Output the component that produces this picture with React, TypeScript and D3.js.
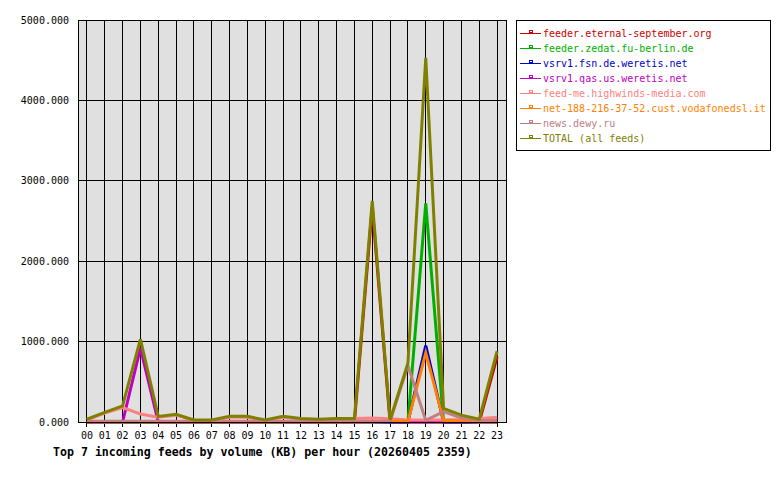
import React from 'react';
import * as d3 from 'd3';

const hours = ['00','01','02','03','04','05','06','07','08','09','10','11','12','13','14','15','16','17','18','19','20','21','22','23'];
const yTicks = [0, 1000, 2000, 3000, 4000, 5000];

const feedNames = [
  'feeder.eternal-september.org',
  'feeder.zedat.fu-berlin.de',
  'vsrv1.fsn.de.weretis.net',
  'vsrv1.qas.us.weretis.net',
  'feed-me.highwinds-media.com',
  'net-188-216-37-52.cust.vodafonedsl.it',
  'news.dewy.ru',
  'TOTAL (all feeds)',
];
const feedColors = ['#cc0000', '#00b000', '#0000cc', '#c000c0', '#ff8080', '#ff8000', '#c08080', '#808000'];

// KB per hour
const eternalSeptember = [0,0,0,0,0,0,0,0,0,0,0,0,0,0,0,0,2680,0,0,0,0,0,0,810];
const zedat = [0,0,0,0,0,0,0,0,0,0,0,0,0,0,0,0,0,0,0,2720,0,0,0,0];
const fsnWeretis = [0,0,0,0,0,0,0,0,0,0,0,0,0,0,0,0,0,0,0,950,0,0,0,0];
const qasWeretis = [0,0,0,920,0,0,0,0,0,0,0,0,0,0,0,0,0,0,0,0,0,0,0,0];
const highwinds = [25,110,180,100,60,85,15,15,60,60,15,60,35,25,35,45,50,40,25,25,25,30,40,60];
const vodafone = [0,0,0,0,0,0,0,0,0,0,0,0,0,0,0,0,0,10,10,860,20,10,0,0];
const dewy = [10,10,10,10,10,10,10,10,10,10,10,10,10,10,10,10,10,10,700,20,130,50,20,20];
const total = [35,120,200,1030,70,95,25,25,70,70,25,70,45,35,45,45,2750,25,730,4530,170,85,35,880];

const seriesValues = [eternalSeptember, zedat, fsnWeretis, qasWeretis, highwinds, vodafone, dewy, total];

const mono = '"DejaVu Sans Mono", "Liberation Mono", monospace';

export default function App() {
  const left = 78, right = 506, top = 20, bottom = 422;
  const x = d3.scalePoint<string>().domain(hours).range([left, right]).padding(0.5);
  const y = d3.scaleLinear().domain([0, 5000]).range([bottom, top]);

  const line = d3.line<number>()
    .x((_, i) => x(hours[i]) as number)
    .y((d) => y(d));

  const legendX = 516, legendY = 20;

  return (
    <svg width={780} height={480} style={{ position: 'absolute', left: 0, top: 0, background: '#fff' }}>
      <rect x={left} y={top} width={right - left} height={bottom - top} fill="#e0e0e0" />

      {/* grid */}
      <g stroke="#000" strokeWidth={1} shapeRendering="crispEdges">
        {yTicks.map((t) => (
          <line key={'h' + t} x1={left} x2={right} y1={y(t)} y2={y(t)} />
        ))}
        {hours.map((h) => (
          <line key={'v' + h} x1={x(h)} x2={x(h)} y1={top} y2={bottom + 5} />
        ))}
      </g>

      {/* series */}
      {seriesValues.map((vals, i) => (
        <path key={feedNames[i]} d={line(vals) || ''} fill="none" stroke={feedColors[i]} strokeWidth={3} strokeLinejoin="miter" />
      ))}

      <rect x={left} y={top} width={right - left} height={bottom - top} fill="none" stroke="#000" strokeWidth={1} shapeRendering="crispEdges" />

      {/* y labels */}
      {yTicks.map((t) => (
        <text key={'yl' + t} x={69} y={y(t)} dy="0.35em" textAnchor="end" fontFamily={mono} fontSize={10} fill="#000">
          {d3.format('.3f')(t)}
        </text>
      ))}

      {/* x labels */}
      {hours.map((h) => (
        <text key={'xl' + h} x={x(h)} y={435} dy="0.35em" textAnchor="middle" fontFamily={mono} fontSize={10} fill="#000">
          {h}
        </text>
      ))}

      <text x={53} y={452} dy="0.35em" fontFamily={mono} fontSize={11.6} fontWeight="bold" fill="#000">
        Top 7 incoming feeds by volume (KB) per hour (20260405 2359)
      </text>

      {/* legend */}
      <rect x={legendX + 0.5} y={legendY + 0.5} width={254} height={130} fill="#fff" stroke="#000" shapeRendering="crispEdges" />
      {feedNames.map((name, i) => {
        const ly = legendY + 13 + i * 15;
        return (
          <g key={'lg' + name}>
            <line x1={520} x2={541} y1={ly + 0.5} y2={ly + 0.5} stroke={feedColors[i]} strokeWidth={1} shapeRendering="crispEdges" />
            <rect x={529.5} y={ly - 2.5} width={3} height={2} fill="none" stroke={feedColors[i]} strokeWidth={1} shapeRendering="crispEdges" />
            <text x={543} y={ly} dy="0.35em" fontFamily={mono} fontSize={10} fill={feedColors[i]}>
              {name}
            </text>
          </g>
        );
      })}
    </svg>
  );
}
